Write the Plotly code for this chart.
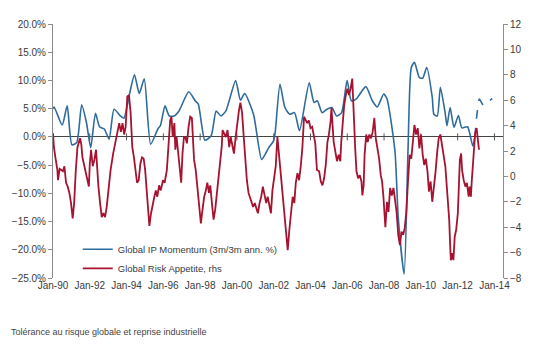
import datetime as dt
import plotly.graph_objects as go

# ---- data ----
# time given as years elapsed since Jan-1990
ip_t = [0.00, 0.06, 0.50, 0.77, 1.03, 1.29, 1.56, 1.82, 2.05, 2.31, 2.53, 2.79, 3.05, 3.32, 3.67, 3.85,
        4.20, 4.43, 4.69, 4.96, 5.31, 5.70, 5.84, 6.09, 6.32, 6.58, 6.85, 7.38, 7.73, 7.90, 8.26, 8.60,
        8.87, 9.13, 9.40, 9.93, 10.19, 10.42, 10.90, 11.34, 11.55, 11.73, 11.99, 12.08, 12.34, 12.61,
        12.87, 13.13, 13.40, 13.93, 14.19, 14.37, 14.63, 14.89, 15.16, 15.42, 15.69, 15.99, 16.22,
        16.48, 17.01, 17.36, 17.63, 17.98, 18.16, 18.59, 18.77, 19.09, 19.30, 19.48, 19.65, 19.92,
        20.10, 20.32, 20.62, 20.71, 20.89, 21.06, 21.33, 21.42, 21.59, 21.80, 22.04, 22.23, 22.54,
        22.82, 22.94]
ip_v = [5.0, 5.3, 2.1, 5.5, -1.4, -1.0, 5.7, 2.5, -1.9, 4.2, 1.8, 1.4, -0.4, 4.9, 3.7, 3.3,
        8.2, 11.0, 7.7, 10.3, -1.3, 1.4, 2.0, 5.5, 3.7, 3.7, 4.6, 8.0, 6.4, 5.8, -0.6, 0.2,
        4.6, 3.7, 4.6, 10.0, 6.5, 7.7, 4.0, -4.0, -3.0, -1.9, -0.7, 0.8, 9.3, 5.2,
        4.0, 4.3, 1.1, 9.6, 6.1, 6.4, 4.3, 4.9, 5.2, 3.7, 4.3, 10.0, 6.4,
        6.7, 8.9, 6.4, 5.3, 7.6, 6.7, -2.5, -14.3, -24.3, -2.5, 12.3, 13.2, 10.5,
        10.4, 12.3, 7.0, 4.0, 3.7, 8.8, 4.0, 2.0, 5.2, 1.7, 3.8, 1.6, 1.8,
        -1.6, 0.0]
ip_fc_t = [22.94, 23.03, 23.18, 23.35, 23.44, 23.65, 23.88]
ip_fc_v = [0.0, 3.4, 6.7, 5.8, 5.6, 6.2, 6.8]

ra_t = [0.00, 0.05, 0.13, 0.24, 0.27, 0.36, 0.54, 0.62, 0.71, 0.80, 0.89, 0.98, 1.07, 1.15, 1.24, 1.33,
        1.47, 1.54, 1.60, 1.68, 1.77, 1.86, 1.95, 2.00, 2.07, 2.16, 2.25, 2.34, 2.39, 2.47, 2.56, 2.65,
        2.74, 2.83, 2.92, 3.00, 3.13, 3.27, 3.45, 3.51, 3.60, 3.69, 3.78, 3.87, 3.95, 4.04, 4.13, 4.22,
        4.26, 4.31, 4.40, 4.48, 4.57, 4.66, 4.75, 4.84, 4.93, 5.01, 5.10, 5.19, 5.24, 5.33, 5.42, 5.51,
        5.59, 5.67, 5.77, 5.86, 5.98, 6.07, 6.19, 6.28, 6.37, 6.44, 6.51, 6.60, 6.65, 6.72, 6.81, 6.90,
        6.97, 7.04, 7.12, 7.20, 7.28, 7.37, 7.46, 7.55, 7.60, 7.67, 7.76, 7.81, 7.90, 7.99, 8.04, 8.13,
        8.22, 8.31, 8.39, 8.48, 8.55, 8.64, 8.73, 8.82, 8.91, 9.00, 9.08, 9.17, 9.22, 9.31, 9.40, 9.49,
        9.58, 9.66, 9.75, 9.84, 9.93, 10.02, 10.11, 10.19, 10.28, 10.37, 10.45, 10.54, 10.63, 10.72,
        10.79, 10.88, 10.97, 11.06, 11.14, 11.23, 11.32, 11.41, 11.50, 11.59, 11.67, 11.76, 11.85,
        11.93, 12.02, 12.11, 12.20, 12.25, 12.33, 12.41, 12.50, 12.59, 12.67, 12.76, 12.85, 12.94,
        13.03, 13.12, 13.20, 13.29, 13.38, 13.47, 13.56, 13.65, 13.73, 13.82, 13.91, 14.00, 14.09,
        14.18, 14.26, 14.35, 14.47, 14.56, 14.65, 14.74, 14.83, 14.92, 15.00, 15.09, 15.14, 15.21,
        15.26, 15.35, 15.44, 15.53, 15.62, 15.67, 15.76, 15.83, 15.92, 16.00, 16.09, 16.18, 16.27,
        16.32, 16.37, 16.43, 16.50, 16.59, 16.68, 16.77, 16.82, 16.89, 16.94, 17.03, 17.11, 17.20,
        17.29, 17.38, 17.47, 17.55, 17.64, 17.73, 17.82, 17.89, 17.96, 18.07, 18.16, 18.24, 18.33,
        18.42, 18.51, 18.59, 18.68, 18.77, 18.86, 18.95, 19.04, 19.12, 19.21, 19.30, 19.39, 19.48,
        19.57, 19.65, 19.74, 19.83, 19.92, 20.01, 20.10, 20.18, 20.27, 20.36, 20.44, 20.53, 20.62,
        20.71, 20.80, 20.89, 20.97, 21.06, 21.15, 21.24, 21.33, 21.45, 21.54, 21.59, 21.63, 21.71,
        21.77, 21.84, 21.92, 22.01, 22.07, 22.12, 22.19, 22.24, 22.33, 22.42, 22.50, 22.60, 22.65,
        22.72, 22.77, 22.85, 22.95, 23.03, 23.09, 23.16]
ra_v = [3.4, 2.3, 1.5, 0.5, -0.3, 0.6, 0.4, 0.8, -0.5, -0.8, -1.3, -2.1, -3.3, -2.1, 0.5, 2.3,
        3.0, 2.5, 1.5, 1.0, 0.5, -0.3, -0.8, 1.0, 2.1, 0.8, 1.3, 2.1, 0.5, -0.8, -2.1, -3.2,
        -2.9, -3.2, -2.4, -1.1, 0.5, 1.8, 3.1, 3.65, 4.2, 3.5, 4.2, 3.3, 3.9, 6.3, 6.4, 5.0,
        3.1, 2.3, 1.5, 0.5, -0.5, -0.3, 1.0, 1.5, 1.4, 0.5, -1.1, -2.6, -3.9, -2.9, -2.1, -1.6,
        -1.1, -1.6, -0.7, -1.1, -0.3, -0.5, 0.5, 2.3, 4.4, 4.7, 3.1, 4.2, 2.1, 3.1, 1.8, 0.5,
        -0.5, 1.8, 3.1, 3.1, 2.6, 3.9, 4.7, 4.6, 3.1, 1.3, 0.5, -0.3, -1.9, -2.9, -3.7, -2.6,
        -1.6, -1.1, -0.5, -1.3, -0.7, -2.1, -3.4, -2.6, -1.3, -0.3, 1.0, 2.3, 3.65, 3.4, 3.1, 3.65,
        2.3, 3.1, 2.3, 1.8, 3.1, 4.4, 5.2, 5.8, 5.0, 3.1, 1.3, -0.3, -1.3, -1.7,
        -1.9, -2.4, -2.1, -2.6, -2.9, -2.1, -1.6, -0.8, -1.6, -2.1, -1.6, -2.4, -2.9,
        -1.1, -0.05, 0.8, 3.1, 2.3, 1.0, -0.3, -1.9, -3.2, -4.2, -5.8, -4.2, -2.9,
        -1.6, -2.1, -0.5, 0.25, -0.3, 0.8, 2.3, 4.7, 4.4, 4.2, 4.4, 3.8, 3.9,
        3.1, 2.6, 0.5, 0.4, -0.4, -0.7, -0.15, 0.9, 2.7, 3.3, 4.3, 5.4, 3.8,
        2.7, 1.95, 1.2, 1.7, 1.2, 2.7, 4.3, 5.6, 6.4, 6.9, 6.4, 6.9, 7.7,
        6.4, 4.3, 2.2, 0.4, -0.15, 0.1, -0.4, -1.5, -0.7, 1.7, 3.3, 2.7, 3.3,
        3.0, 3.5, 4.6, 3.0, 2.2, 1.4, 0.1, -0.4, -1.5, -4.0, -2.0, -2.8, -0.9,
        -1.5, -0.9, -2.0, -2.8, -4.6, -5.4, -4.35, -4.6, -4.1, -2.8, -0.4, 1.7, 1.4,
        3.0, 4.05, 3.3, 3.8, 2.2, 3.3, 1.7, 0.9, 1.4, 0.4, -1.2, -0.4, -2.0,
        -0.9, 0.4, 1.95, 3.0, 3.3, 2.5, 1.7, 0.8, -1.6, -3.4, -5.3, -6.6, -6.05,
        -6.6, -4.75, -4.2, -2.9, -0.8, 1.3, 1.8, 0.5, -0.3, -0.8, -0.5, -1.6, -0.8,
        -1.6, -0.3, 1.8, 3.4, 3.8, 3.1, 2.1]

tick_years = [1990, 1992, 1994, 1996, 1998, 2000, 2002, 2004, 2006, 2008, 2010, 2012, 2014]

BASE = dt.datetime(1990, 1, 1)


def to_dates(offsets):
    return [BASE + dt.timedelta(days=o * 365.25) for o in offsets]


BLUE = "#2F6B9D"
RED = "#A6122F"
TXT = "#3A3A3A"
AX = "#8C8C8C"
FONT = "Liberation Sans, Arial, sans-serif"

fig = go.Figure()
fig.add_trace(go.Scatter(x=to_dates(ip_t), y=ip_v, mode="lines", line=dict(color=BLUE, width=1.6, shape="spline", smoothing=0.6),
                         name="Global IP Momentum (3m/3m ann. %)", yaxis="y"))
fig.add_trace(go.Scatter(x=to_dates(ip_fc_t), y=ip_fc_v, mode="lines", line=dict(color=BLUE, width=1.6, dash="dash", shape="spline", smoothing=0.6),
                         showlegend=False, yaxis="y"))
fig.add_trace(go.Scatter(x=to_dates(ra_t), y=ra_v, mode="lines", line=dict(color=RED, width=1.8),
                         name="Global Risk Appetite, rhs", yaxis="y2"))
# small tick marks on the zero line
tick_dates = [dt.datetime(y, 1, 1) for y in tick_years]
fig.add_trace(go.Scatter(x=tick_dates, y=[0] * len(tick_dates), mode="markers", yaxis="y",
                         marker=dict(symbol="line-ns-open", size=5, color="#555555",
                                     line=dict(color="#555555", width=1)),
                         showlegend=False, hoverinfo="skip"))

fig.update_layout(
    width=534, height=344,
    margin=dict(l=45, r=25, t=24, b=66),
    paper_bgcolor="white", plot_bgcolor="white",
    font=dict(family=FONT, size=10, color=TXT),
    xaxis=dict(type="date", range=[dt.datetime(1990, 1, 1), dt.datetime(2014, 6, 20)],
               tickvals=tick_dates, tickformat="%b-%y", showgrid=False, zeroline=False,
               showline=False, ticks="", tickfont=dict(size=10, color=TXT)),
    yaxis=dict(range=[-25, 20], dtick=5, tickformat=".1f", ticksuffix="%", showgrid=False,
               zeroline=True, zerolinecolor="#444444", zerolinewidth=1,
               showline=True, linecolor=AX, linewidth=1, ticks="outside", ticklen=4, tickcolor=AX,
               tickfont=dict(size=10, color=TXT)),
    yaxis2=dict(range=[-8, 12], dtick=2, overlaying="y", side="right", showgrid=False, zeroline=False,
                showline=True, linecolor=AX, linewidth=1, ticks="outside", ticklen=4, tickcolor=AX,
                tickfont=dict(size=10, color=TXT)),
    legend=dict(x=0.055, y=0.17, xanchor="left", yanchor="top", bgcolor="rgba(0,0,0,0)",
                font=dict(size=9.5, color=TXT), tracegroupgap=0, itemwidth=30),
    showlegend=True,
    annotations=[dict(text="Tolérance au risque globale et reprise industrielle", xref="paper", yref="paper",
                      x=-45 / 464, y=-54 / 254, xanchor="left", yanchor="middle", showarrow=False,
                      font=dict(size=9, color="#444444"))],
)

fig.write_html("out.html")
